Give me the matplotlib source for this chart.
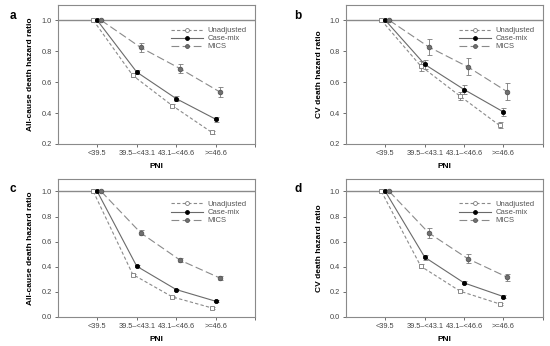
import numpy as np
import matplotlib.pyplot as plt
from matplotlib.lines import Line2D

plt.rcParams["font.family"] = ["Liberation Sans", "DejaVu Sans"]

categories = ["<39.5", "39.5\u2013<43.1", "43.1\u2013<46.6", ">=46.6"]
series_names = ["Unadjusted", "Case-mix", "MICS"]

# panel a: all-cause death, panel b: CV death (first model)
a_unadj = [1.0, 0.643, 0.448, 0.275]
a_unadj_err = [0.0, 0.012, 0.01, 0.01]
a_case = [1.0, 0.665, 0.493, 0.36]
a_case_err = [0.0, 0.015, 0.015, 0.015]
a_mics = [1.0, 0.824, 0.687, 0.537]
a_mics_err = [0.0, 0.03, 0.03, 0.032]

b_unadj = [1.0, 0.704, 0.509, 0.32]
b_unadj_err = [0.0, 0.03, 0.025, 0.02]
b_case = [1.0, 0.715, 0.552, 0.407]
b_case_err = [0.0, 0.03, 0.03, 0.025]
b_mics = [1.0, 0.828, 0.698, 0.537]
b_mics_err = [0.0, 0.05, 0.055, 0.055]

# panels c, d: second model
c_unadj = [1.0, 0.338, 0.16, 0.072]
c_unadj_err = [0.0, 0.008, 0.006, 0.005]
c_case = [1.0, 0.404, 0.218, 0.125]
c_case_err = [0.0, 0.008, 0.007, 0.006]
c_mics = [1.0, 0.67, 0.452, 0.311]
c_mics_err = [0.0, 0.02, 0.015, 0.015]

d_unadj = [1.0, 0.404, 0.205, 0.104]
d_unadj_err = [0.0, 0.015, 0.008, 0.006]
d_case = [1.0, 0.476, 0.271, 0.162]
d_case_err = [0.0, 0.02, 0.012, 0.01]
d_mics = [1.0, 0.67, 0.463, 0.316]
d_mics_err = [0.0, 0.04, 0.035, 0.03]

panels = [
    ("a", "All-cause death hazard ratio", (a_unadj, a_unadj_err), (a_case, a_case_err), (a_mics, a_mics_err), 0.2, [0.2, 0.4, 0.6, 0.8, 1.0]),
    ("b", "CV death hazard ratio", (b_unadj, b_unadj_err), (b_case, b_case_err), (b_mics, b_mics_err), 0.2, [0.2, 0.4, 0.6, 0.8, 1.0]),
    ("c", "All-cause death hazard ratio", (c_unadj, c_unadj_err), (c_case, c_case_err), (c_mics, c_mics_err), 0.0, [0.0, 0.2, 0.4, 0.6, 0.8, 1.0]),
    ("d", "CV death hazard ratio", (d_unadj, d_unadj_err), (d_case, d_case_err), (d_mics, d_mics_err), 0.0, [0.0, 0.2, 0.4, 0.6, 0.8, 1.0]),
]

positions = [
    [0.105, 0.584, 0.359, 0.402],
    [0.629, 0.584, 0.358, 0.402],
    [0.105, 0.084, 0.359, 0.399],
    [0.629, 0.084, 0.358, 0.399],
]
letter_xy = [(0.018, 0.945), (0.535, 0.945), (0.018, 0.445), (0.535, 0.445)]

styles = [
    dict(ls=(0, (3, 2)), color="#8a8a8a", marker="s", mfc="white", mec="#7a7a7a", ms=3.3, offset=-0.1),
    dict(ls="-", color="#6a6a6a", marker="o", mfc="black", mec="black", ms=3.0, offset=0.0),
    dict(ls=(0, (7, 3)), color="#8a8a8a", marker="o", mfc="#707070", mec="#555555", ms=3.3, offset=0.1),
]

fig = plt.figure(figsize=(5.5, 3.46), dpi=100)
x = np.arange(1, len(categories) + 1)

for (letter, ylab, s1, s2, s3, ymin, yticks), pos, lxy in zip(panels, positions, letter_xy):
    ax = fig.add_axes(pos)
    ax.axhline(1.0, color="#8a8a8a", lw=1.0, zorder=1)
    handles = []
    for (vals, errs), st, name in zip([s1, s2, s3], styles, series_names):
        ax.errorbar(x + st["offset"], vals, yerr=errs, ls=st["ls"], color=st["color"], lw=0.8,
                    marker=st["marker"], mfc=st["mfc"], mec=st["mec"], ms=st["ms"], mew=0.6,
                    ecolor="#7a7a7a", elinewidth=0.6, capsize=1.8, capthick=0.6, zorder=3)
        handles.append(Line2D([], [], ls=st["ls"], color=st["color"], lw=0.8, marker="o" if st["marker"] == "s" else st["marker"],
                              mfc=st["mfc"], mec=st["mec"], ms=2.8, mew=0.6, label=name))
    ax.set_xlim(0, 5)
    ax.set_ylim(ymin, 1.1)
    ax.set_xticks([1, 2, 3, 4, 5])
    ax.set_xticklabels(categories + [""])
    ax.set_yticks(yticks)
    ax.set_yticklabels([f"{t:.1f}" for t in yticks])
    ax.tick_params(labelsize=5.3, length=2.5, width=0.6, color="#555555", labelcolor="#444444", pad=2)
    for sp in ax.spines.values():
        sp.set_color("#8a8a8a")
        sp.set_linewidth(0.8)
    ax.set_xlabel("PNI", fontsize=6, fontweight="bold", labelpad=4)
    ax.set_ylabel(ylab, fontsize=6, fontweight="bold", labelpad=5)
    leg = ax.legend(handles=handles, loc="upper right", bbox_to_anchor=(0.985, 0.88), frameon=False,
                    fontsize=5.5, handlelength=4.2, labelspacing=0.1, handletextpad=0.6, borderpad=0.2)
    for t in leg.get_texts():
        t.set_color("#555555")
    fig.text(lxy[0], lxy[1], letter, fontsize=8.5, fontweight="bold")

fig.savefig("out.png", dpi=100)
